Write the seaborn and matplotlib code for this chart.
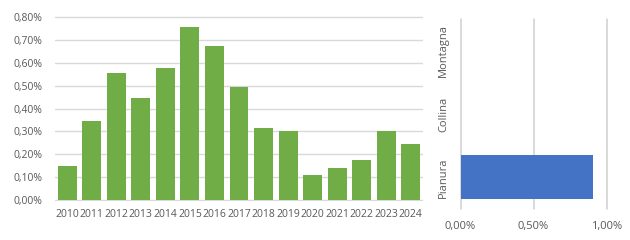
import matplotlib
matplotlib.use("Agg")
import matplotlib.pyplot as plt
import seaborn as sns
import pandas as pd
from matplotlib.ticker import FuncFormatter

years = ["2010", "2011", "2012", "2013", "2014", "2015", "2016", "2017",
         "2018", "2019", "2020", "2021", "2022", "2023", "2024"]
values = [0.15, 0.345, 0.555, 0.445, 0.577, 0.756, 0.673, 0.494,
          0.315, 0.301, 0.109, 0.14, 0.176, 0.301, 0.245]
zones = ["Montagna", "Collina", "Pianura"]
zone_values = [0.0, 0.0, 0.91]
zone_ticks = [0.0, 0.5, 1.0]

sns.set_style("white")
plt.rcParams['font.family'] = ['Open Sans', 'DejaVu Sans']
TXT = "#595959"
GRID = "#D0D0D0"

fig = plt.figure(figsize=(6.3, 2.4), dpi=100)
ax1 = fig.add_axes([55/630, 1-201/240, (423-55)/630, (201-16)/240])
ax2 = fig.add_axes([460.5/630, 1-209/240, (606.5-460.5)/630, (209-19)/240])

df1 = pd.DataFrame({"year": years, "val": values})
sns.barplot(data=df1, x="year", y="val", color="#70AD47", saturation=1,
            width=0.77, linewidth=0, ax=ax1, zorder=3)
ax1.set_ylim(-0.004, 0.805)
ax1.set_xlim(-0.5, len(years)-0.5)
ax1.set_yticks([i/10 for i in range(9)])
ax1.yaxis.set_major_formatter(FuncFormatter(lambda v, p: f"{v:.2f}%".replace(".", ",")))
ax1.grid(axis="y", color="#D9D9D9", linewidth=1, zorder=0)
ax1.set_axisbelow(True)
for s in ax1.spines.values():
    s.set_visible(False)
ax1.tick_params(axis="both", length=0, labelsize=7.5, colors=TXT)
ax1.tick_params(axis="y", pad=9)
ax1.tick_params(axis="x", pad=6)
ax1.set_xlabel("")
ax1.set_ylabel("")

df2 = pd.DataFrame({"zone": zones, "val": zone_values})
sns.barplot(data=df2, y="zone", x="val", color="#4472C4", saturation=1,
            width=0.69, orient="h", linewidth=0, ax=ax2, zorder=3)
ax2.set_xlim(0, 1.0)
ax2.set_xticks(zone_ticks)
ax2.xaxis.set_major_formatter(FuncFormatter(lambda v, p: f"{v:.2f}%".replace(".", ",")))
ax2.grid(False)
for t in zone_ticks:
    ax2.axvline(t, color=GRID, linewidth=1.1, zorder=1, clip_on=False, snap=True)
for s in ax2.spines.values():
    s.set_visible(False)
ax2.tick_params(axis="both", length=0, labelsize=8, colors=TXT)
ax2.tick_params(axis="x", pad=9)
ax2.tick_params(axis="y", pad=12)
for lab in ax2.get_yticklabels():
    lab.set_rotation(90)
    lab.set_va("center")
    lab.set_ha("center")
ax2.set_xlabel("")
ax2.set_ylabel("")

fig.savefig("out.png", dpi=100)
